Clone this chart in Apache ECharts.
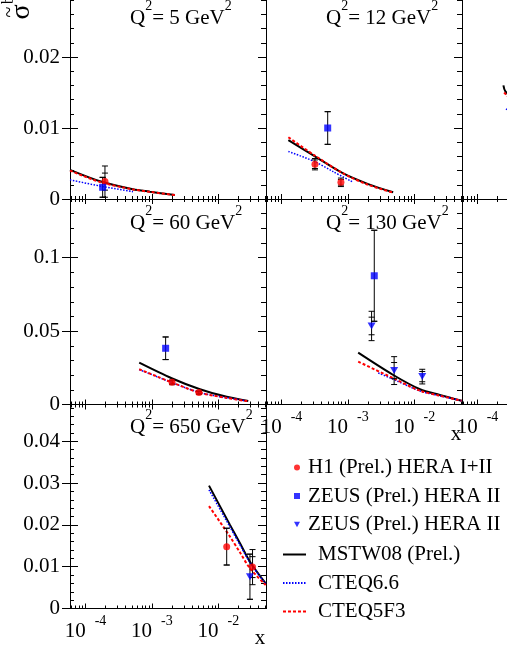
<!DOCTYPE html>
<html><head><meta charset="utf-8"><title>sigma bb</title>
<script src="https://cdn.jsdelivr.net/npm/echarts@6.0.0/dist/echarts.min.js"></script>
<style>html,body{margin:0;padding:0;background:#fff;overflow:hidden;width:507px;height:656px;position:relative;}
#chart{position:absolute;left:0;top:-20px;width:720px;height:700px;}</style>
</head><body><div id="chart"></div>
<script>
// ---------------- data ----------------
const xMin = 5.8e-5, xMax = 0.052;
const xTickMajor = [1e-4, 1e-3, 1e-2];
const xTickMinor = [6e-5,7e-5,8e-5,9e-5,2e-4,3e-4,4e-4,5e-4,6e-4,7e-4,8e-4,9e-4,
                    2e-3,3e-3,4e-3,5e-3,6e-3,7e-3,8e-3,9e-3,2e-2,3e-2,4e-2,5e-2];
const yMaxRows = [0.029, 0.14, 0.0488];
const yMajorRows = [[0,0.01,0.02],[0,0.05,0.1],[0,0.01,0.02,0.03,0.04]];
const yMinorStepRows = [0.002, 0.01, 0.002];

// points: [x, value, total error, stat error]
// Q2 = 5
const mstw_q5   = [[5.8e-5,0.0041],[1.64e-4,0.0025],[5.15e-4,0.00137],[9.3e-4,0.00103],[2.21e-3,0.00056]];
const cteq66_q5 = [[5.8e-5,0.0027],[1.64e-4,0.00183],[5.15e-4,0.00103]];
const cteq5_q5  = [[5.8e-5,0.0040],[1.64e-4,0.0024],[5.15e-4,0.00135],[9.3e-4,0.0010],[2.21e-3,0.00055]];
const h1_q5     = [[1.95e-4,0.00245,0.0022,0.0012]];
const zeusSq_q5 = [[1.8e-4,0.00165,0.0014,0.0014]];
// Q2 = 12
const mstw_q12   = [[1.26e-4,0.0083],[3.17e-4,0.0060],[8.45e-4,0.0036],[2.01e-3,0.0021],[4.78e-3,0.00094]];
const cteq66_q12 = [[1.26e-4,0.0067],[3.17e-4,0.00525],[5.97e-4,0.00385],[1.2e-3,0.00235]];
const cteq5_q12  = [[1.26e-4,0.0087],[3.17e-4,0.0061],[8.45e-4,0.0036],[2.01e-3,0.0020],[4.78e-3,0.0009]];
const h1_q12     = [[3.17e-4,0.0049,0.0008,0.0006],[7.8e-4,0.00235,0.0006,0.0004]];
const zeusSq_q12 = [[4.93e-4,0.0100,0.0023,0.0023]];
// Q2 = 25 (panel mostly outside the picture)
const mstw_q25   = [[2.44e-4,0.0160],[2.6e-4,0.0152],[1e-3,0.0090]];
const cteq66_q25 = [[2.67e-4,0.0127],[1e-3,0.0085]];
const cteq5_q25  = [[2.5e-4,0.0150],[1e-3,0.0089]];
// Q2 = 60
const mstw_q60   = [[6.4e-4,0.0285],[1.97e-3,0.0179],[5.26e-3,0.0104],[1.33e-2,0.0053],[2.81e-2,0.0024]];
const cteq66_q60 = [[6.4e-4,0.0238],[1.97e-3,0.0150],[5.26e-3,0.0081],[1.33e-2,0.0046],[2.81e-2,0.0023]];
const cteq5_q60  = [[6.4e-4,0.0240],[1.97e-3,0.0151],[5.26e-3,0.0080],[1.33e-2,0.0045],[2.81e-2,0.0022]];
const h1_q60     = [[2.0e-3,0.0151,0.0016,0.0010],[5.08e-3,0.0081,0.0012,0.0008]];
const zeusSq_q60 = [[1.6e-3,0.0383,0.0077,0.0077]];
// Q2 = 130
const mstw_q130    = [[1.42e-3,0.0353],[4.79e-3,0.0201],[1.21e-2,0.0104],[2.41e-2,0.0065],[5.13e-2,0.0026]];
const cteq66_q130  = [[2.85e-3,0.0215],[4.79e-3,0.0172],[1.21e-2,0.0092],[2.41e-2,0.0059],[5.13e-2,0.0026]];
const cteq5_q130   = [[1.42e-3,0.0292],[4.79e-3,0.0179],[1.21e-2,0.0094],[2.41e-2,0.0060],[5.13e-2,0.0026]];
const zeusSq_q130  = [[2.48e-3,0.0877,0.031,0.031]];
const zeusTri_q130 = [[2.26e-3,0.0535,0.0100,0.0060],[4.94e-3,0.0231,0.0095,0.0055],[1.31e-2,0.0190,0.0050,0.0035]];
// Q2 = 650
const mstw_q650    = [[7.2e-3,0.0294],[1.49e-2,0.0200],[2.11e-2,0.0156],[2.98e-2,0.0112],[5.14e-2,0.0060]];
const cteq66_q650  = [[7.2e-3,0.0284],[1.49e-2,0.0195],[2.11e-2,0.0152],[2.98e-2,0.0110],[5.14e-2,0.0059]];
const cteq5_q650   = [[7.2e-3,0.0245],[1.49e-2,0.0172],[2.11e-2,0.0134],[2.98e-2,0.0096],[5.14e-2,0.0056]];
const h1_q650      = [[1.33e-2,0.0148,0.0044,0.0044],[3.26e-2,0.0099,0.0042,0.0025]];
const zeusTri_q650 = [[2.98e-2,0.0076,0.0054,0.0054]];

const legendNames = {
  H1:'H1 (Prel.) HERA I+II', ZEUSsq:'ZEUS (Prel.) HERA II', ZEUStri:'ZEUS (Prel.) HERA II',
  MSTW:'MSTW08 (Prel.)', CTEQ66:'CTEQ6.6', CTEQ5:'CTEQ5F3'
};

// ---------------- layout ----------------
const FONT = "'Liberation Serif','Times New Roman',serif";
const OY = 20;               // the chart canvas starts 20px above the page
const COLS = [70, 266, 462], W = 196;
const ROW_BOTTOM = [199 + OY, 404.5 + OY, 608.5 + OY];
const ROW_H = [0.029*7100, 205.5, 204];

const panels = [
  {r:0,c:0,q:'5',  xl:false, mstw:mstw_q5,  cteq66:cteq66_q5,  cteq5:cteq5_q5,  h1:h1_q5,  zsq:zeusSq_q5,  ztri:[]},
  {r:0,c:1,q:'12', xl:false, mstw:mstw_q12, cteq66:cteq66_q12, cteq5:cteq5_q12, h1:h1_q12, zsq:zeusSq_q12, ztri:[]},
  {r:0,c:2,q:null, xl:false, mstw:mstw_q25, cteq66:cteq66_q25, cteq5:cteq5_q25, h1:[], zsq:[], ztri:[]},
  {r:1,c:0,q:'60', xl:false, mstw:mstw_q60, cteq66:cteq66_q60, cteq5:cteq5_q60, h1:h1_q60, zsq:zeusSq_q60, ztri:[]},
  {r:1,c:1,q:'130',xl:true,  mstw:mstw_q130,cteq66:cteq66_q130,cteq5:cteq5_q130,h1:[], zsq:zeusSq_q130, ztri:zeusTri_q130},
  {r:1,c:2,q:null, xl:true,  mstw:[], cteq66:[], cteq5:[], h1:[], zsq:[], ztri:[]},
  {r:2,c:0,q:'650',xl:true,  mstw:mstw_q650,cteq66:cteq66_q650,cteq5:cteq5_q650,h1:h1_q650, zsq:[], ztri:zeusTri_q650}
];

const mctx = document.createElement('canvas').getContext('2d');
function measure(t, size){ mctx.font = size + 'px ' + FONT; return mctx.measureText(t).width; }
function txt(x, y, t, size, align){
  return {type:'text', x:x, y:y, silent:true, z:60,
    style:{text:t, font:size+'px '+FONT, fill:'#000', align:align||'left', textAlign:align||'left',
           verticalAlign:'middle', textVerticalAlign:'middle'}};
}
function supLabel(x, yMid, parts){
  const els = []; let cx = x;
  parts.forEach(function(p){
    const size = p[1] ? 14 : 21;
    els.push(txt(cx, p[1] ? yMid - 12 : yMid, p[0], size));
    cx += measure(p[0], size);
  });
  return els;
}
function minorTicks(step, max, majors){
  const out = [];
  for (let i = 1; i * step <= max + 1e-12; i++){
    const v = +(i*step).toFixed(6);
    if (!majors.some(m => Math.abs(m - v) < 1e-9)) out.push(v);
  }
  return out;
}
function errRender(params, api){
  const x = api.value(0), y = api.value(1), t = api.value(2), s = api.value(3);
  const a = api.coord([x, y + t]), b = api.coord([x, y - t]);
  const c = api.coord([x, y + s]), d = api.coord([x, y - s]);
  const hw = 3, st = {stroke:'#000', lineWidth:1};
  const seg = (x1,y1,x2,y2) => ({type:'line', shape:{x1:x1,y1:y1,x2:x2,y2:y2}, style:st});
  return {type:'group', children:[
    seg(a[0],a[1],b[0],b[1]),
    seg(a[0]-hw,a[1],a[0]+hw,a[1]), seg(b[0]-hw,b[1],b[0]+hw,b[1]),
    seg(c[0]-hw,c[1],c[0]+hw,c[1]), seg(d[0]-hw,d[1],d[0]+hw,d[1])
  ]};
}

const grids = [], xAxes = [], yAxes = [], series = [], graphics = [];
const axLine = {show:true, onZero:false, lineStyle:{color:'#000', width:1}};
const tickSt = {color:'#000', width:1};

panels.forEach(function(p, g){
  const left = COLS[p.c], height = ROW_H[p.r], top = ROW_BOTTOM[p.r] - height, ymax = yMaxRows[p.r];
  grids.push({left:left, top:top, width:W, height:height, outerBoundsMode:'none', containLabel:false});
  const xc = () => ({type:'log', logBase:10, min:xMin, max:xMax, gridIndex:g, splitLine:{show:false}, axisLine:axLine});
  const xi = xAxes.length;
  xAxes.push(Object.assign(xc(), {position:'bottom',
    axisTick:{inside:true, length:5, customValues:xTickMajor, lineStyle:tickSt},
    axisLabel: p.xl ? {show:true, customValues:xTickMajor, formatter:() => '10', align:'right',
      margin:12, fontSize:21, fontFamily:FONT, color:'#000'} : {show:false}}));
  xAxes.push(Object.assign(xc(), {position:'bottom',
    axisTick:{inside:true, length:3, customValues:xTickMinor, lineStyle:tickSt},
    axisLabel: p.xl ? {show:true, customValues:xTickMajor, formatter:v => String(Math.round(Math.log10(v))),
      align:'left', padding:[0,0,0,9], margin:6, fontSize:14, fontFamily:FONT, color:'#000'} : {show:false}}));
  xAxes.push(Object.assign(xc(), {position:'top',
    axisTick:{inside:true, length:5, customValues:xTickMajor, lineStyle:tickSt}, axisLabel:{show:false}}));
  xAxes.push(Object.assign(xc(), {position:'top',
    axisTick:{inside:true, length:3, customValues:xTickMinor, lineStyle:tickSt}, axisLabel:{show:false}}));

  const majors = yMajorRows[p.r];
  const minors = minorTicks(yMinorStepRows[p.r], ymax, majors);
  const yc = () => ({type:'value', min:0, max:ymax, gridIndex:g, splitLine:{show:false}, axisLine:axLine});
  const first = p.c === 0;
  const yi = yAxes.length;
  yAxes.push(Object.assign(yc(), {position:'left',
    axisTick:{show:first, inside:true, length:8, customValues:majors, lineStyle:tickSt},
    axisLabel: first ? {show:true, customValues:majors, formatter:v => v === 0 ? '0' : String(+v.toFixed(3)),
      margin:10, fontSize:21, fontFamily:FONT, color:'#000'} : {show:false}}));
  yAxes.push(Object.assign(yc(), {position:'left',
    axisTick:{show:first, inside:false, length:8, customValues:majors, lineStyle:tickSt}, axisLabel:{show:false}}));
  yAxes.push(Object.assign(yc(), {position:'left',
    axisTick:{show:first, inside:true, length:4, customValues:minors, lineStyle:tickSt}, axisLabel:{show:false}}));
  yAxes.push(Object.assign(yc(), {position:'right',
    axisTick:{inside:true, length:8, customValues:majors, lineStyle:tickSt}, axisLabel:{show:false}}));
  yAxes.push(Object.assign(yc(), {position:'right',
    axisTick:{inside:true, length:5, customValues:minors, lineStyle:tickSt}, axisLabel:{show:false}}));

  const base = {xAxisIndex:xi, yAxisIndex:yi, animation:false};
  if (p.mstw.length) series.push(Object.assign({type:'line', name:'MSTW', data:p.mstw, symbol:'none', smooth:0.3,
    lineStyle:{color:'#000', width:2}, itemStyle:{color:'#000'}, z:2}, base));
  if (p.cteq66.length) series.push(Object.assign({type:'line', name:'CTEQ66', data:p.cteq66, symbol:'none', smooth:0.3,
    lineStyle:{color:'#0000ff', width:1.5, type:[1.5,1.5]}, itemStyle:{color:'#0000ff'}, z:2}, base));
  if (p.cteq5.length) series.push(Object.assign({type:'line', name:'CTEQ5', data:p.cteq5, symbol:'none', smooth:0.3,
    lineStyle:{color:'#ff0000', width:2, type:[3,2]}, itemStyle:{color:'#ff0000'}, z:2}, base));
  const errs = p.h1.concat(p.zsq, p.ztri);
  if (errs.length) series.push(Object.assign({type:'custom', name:'err', data:errs, encode:{x:0, y:1},
    renderItem:errRender, silent:true, z:3}, base));
  if (p.h1.length) series.push(Object.assign({type:'scatter', name:'H1', data:p.h1, encode:{x:0,y:1},
    symbol:'circle', symbolSize:7, itemStyle:{color:'#ff0000'}, z:4}, base));
  if (p.zsq.length) series.push(Object.assign({type:'scatter', name:'ZEUSsq', data:p.zsq, encode:{x:0,y:1},
    symbol:'rect', symbolSize:7, itemStyle:{color:'#0000ff'}, z:4}, base));
  if (p.ztri.length) series.push(Object.assign({type:'scatter', name:'ZEUStri', data:p.ztri, encode:{x:0,y:1},
    symbol:'path://M0,0L10,0L5,9Z', symbolSize:[8,7], itemStyle:{color:'#0000ff'}, z:4}, base));

  if (p.q) graphics.push.apply(graphics, supLabel(left + 60, ROW_BOTTOM[p.r] - 181,
    [['Q',0],['2',1],['= ' + p.q + ' GeV',0],['2',1]]));
  if (p.xl) graphics.push(txt(left + W - 6, ROW_BOTTOM[p.r] + 30, 'x', 21, 'center'));
});

// y title: sigma-tilde with b b-bar superscript (rotated)
const rot = Math.PI/2;
function rtxt(x, y, t, size){
  return {type:'text', x:x, y:y, rotation:rot, silent:true, z:60,
    style:{text:t, font:size+'px '+FONT, fill:'#000', align:'center', textAlign:'center', verticalAlign:'middle', textVerticalAlign:'middle'}};
}
graphics.push(rtxt(22, 12 + OY, 'σ', 28));
graphics.push(rtxt(10, 12 + OY, '~', 20));
graphics.push(rtxt(9, 0 + OY, 'b', 16));
graphics.push(rtxt(9, -10 + OY, 'b', 16));

const legendCommon = {orient:'vertical', selectedMode:false, itemGap:6.5, padding:0,
  formatter: n => legendNames[n]};
const option = {
  animation:false,
  backgroundColor:'#fff',
  grid: grids, xAxis: xAxes, yAxis: yAxes, series: series,
  legend: [
    Object.assign({left:294, top:456.5 + OY, itemWidth:6, itemHeight:6, data:['H1','ZEUSsq','ZEUStri'],
      textStyle:{fontSize:21, fontFamily:FONT, color:'#000', lineHeight:22, padding:[0,0,0,3]}}, legendCommon),
    Object.assign({left:282, top:543.5 + OY, itemWidth:23, itemHeight:8, data:['MSTW','CTEQ66','CTEQ5'],
      itemStyle:{opacity:0},
      textStyle:{fontSize:21, fontFamily:FONT, color:'#000', lineHeight:22, padding:[0,0,0,7]}}, legendCommon)
  ],
  graphic: {elements: graphics}
};
const chart = echarts.init(document.getElementById('chart'), null, {renderer:'canvas'});
chart.setOption(option);
</script></body></html>
